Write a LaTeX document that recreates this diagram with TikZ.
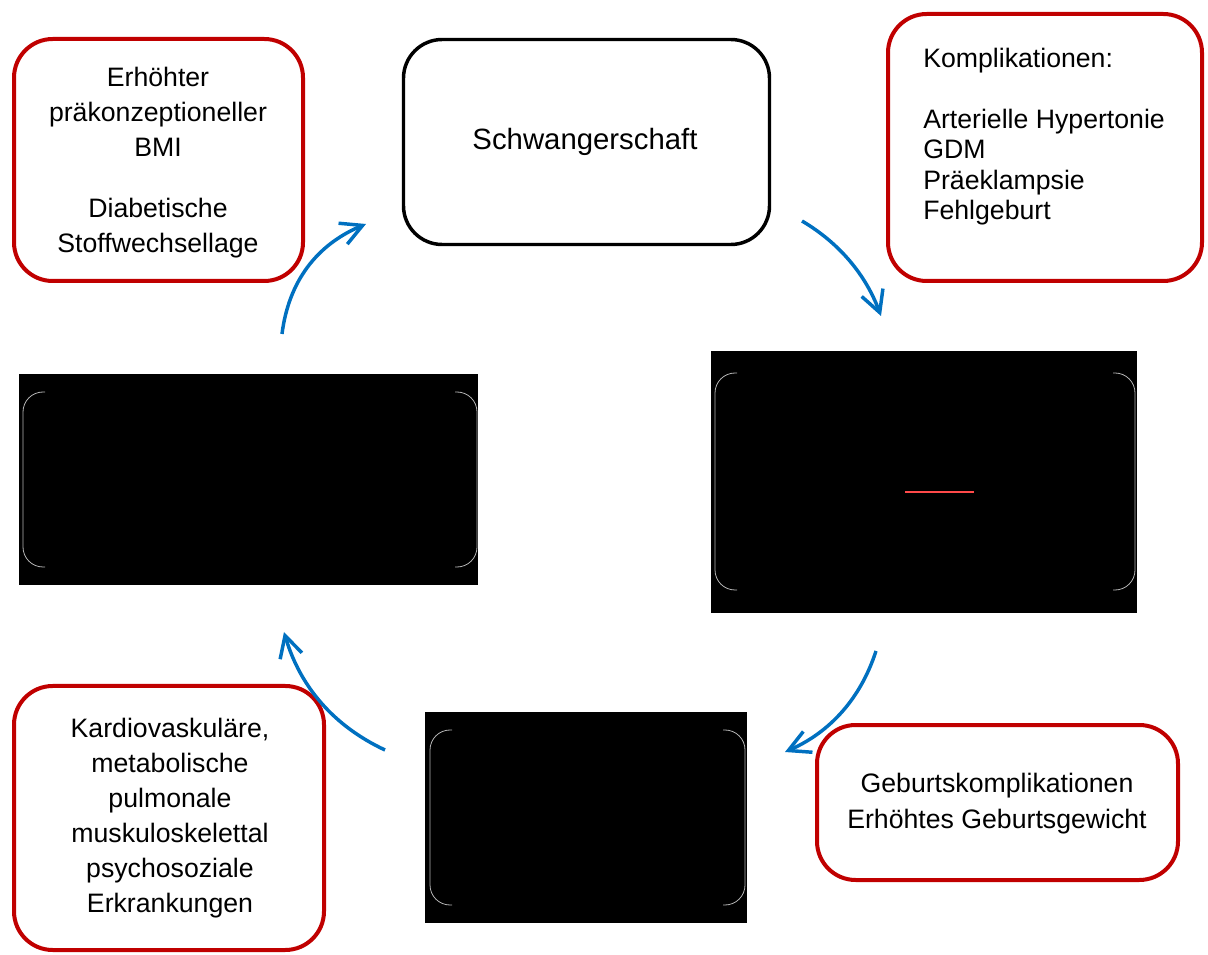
\documentclass[tikz,border=0pt]{standalone}
\usepackage{fontspec}
\setmainfont{Liberation Sans}
\usetikzlibrary{arrows.meta}
\definecolor{boxred}{HTML}{C00000}
\definecolor{arrowblue}{HTML}{0070C0}
\definecolor{ghostgray}{HTML}{B4B4B4}
\definecolor{squigred}{HTML}{FF4A4A}
\tikzset{
  redbox/.style={draw=boxred, line width=3pt, rounded corners=29pt, fill=white, inner sep=0pt},
  blackborderbox/.style={draw=black, line width=2.6pt, rounded corners=29pt, fill=white, inner sep=0pt},
  hiddenbox/.style={fill=black, draw=none, inner sep=0pt},
  ghostline/.style={draw=ghostgray, line width=0.6pt, rounded corners=15pt},
  bodytext/.style={inner sep=0pt, font=\fontsize{20pt}{26.25pt}\selectfont},
  cyclearrow/.style={draw=arrowblue, line width=2.6pt, -{Straight Barb[length=16pt,width=17pt,line width=2.6pt]}},
}
\begin{document}
\begin{tikzpicture}[x=0.75pt,y=-0.75pt]
\useasboundingbox (0,0) rectangle (1208,955);

% boxes
\node[redbox, minimum width=216.75pt, minimum height=181.5pt] (bmiBox) at (158.5,160) {};
\node[blackborderbox, minimum width=274.5pt, minimum height=153.75pt] (schwBox) at (586.5,142) {};
\node[redbox, minimum width=235.5pt, minimum height=200.25pt] (kompBox) at (1045,147.5) {};
\node[redbox, minimum width=270.75pt, minimum height=116.25pt] (gebBox) at (997.5,802.5) {};
\node[redbox, minimum width=232.5pt, minimum height=198pt] (erkBox) at (169,818) {};

% hidden (black) boxes
\node[hiddenbox, minimum width=344.25pt, minimum height=158.25pt] (leftHidden) at (248.5,479.5) {};
\node[hiddenbox, minimum width=319.5pt, minimum height=196.5pt] (rightHidden) at (924,482) {};
\node[hiddenbox, minimum width=241.5pt, minimum height=158.25pt] (bottomHidden) at (586,817.5) {};

% faint inner outlines
\draw[ghostline] (45,392) -- (23,392) -- (23,567) -- (45,567);
\draw[ghostline] (455,392) -- (477,392) -- (477,567) -- (455,567);
\draw[ghostline] (737,373) -- (715,373) -- (715,590) -- (737,590);
\draw[ghostline] (1113,373) -- (1135,373) -- (1135,590) -- (1113,590);
\draw[ghostline] (452,730) -- (430,730) -- (430,905) -- (452,905);
\draw[ghostline] (723,730) -- (745,730) -- (745,905) -- (723,905);
\draw[squigred, line width=1.5pt] (905,492) -- (974,492);

% texts (anchor=base is the last line's baseline)
\node[bodytext, align=center, anchor=base] (bmiText) at (158,253)
  {Erhöhter\\präkonzeptioneller\\BMI\\[19.5pt]Diabetische\\Stoffwechsellage};
\node[inner sep=0pt, font=\fontsize{22pt}{26pt}\selectfont, anchor=base] (schwText) at (585,150) {Schwangerschaft};
\node[inner sep=0pt, font=\fontsize{20pt}{22.9pt}\selectfont, align=left, anchor=base west] (kompText) at (923,220)
  {Komplikationen:\\[22.9pt]Arterielle Hypertonie\\GDM\\Präeklampsie\\Fehlgeburt};
\node[inner sep=0pt, font=\fontsize{20pt}{27pt}\selectfont, align=center, anchor=base] (gebText) at (997,828)
  {Geburtskomplikationen\\Erhöhtes Geburtsgewicht};
\node[bodytext, align=center, anchor=base] (erkText) at (170,912)
  {Kardiovaskuläre,\\metabolische\\pulmonale\\muskuloskelettal\\psychosoziale\\Erkrankungen};

% arrows
\coordinate (a1s) at (282,334); \coordinate (a1e) at (366,224);
\coordinate (a2s) at (802,221); \coordinate (a2e) at (881,316);
\coordinate (a3s) at (876,651); \coordinate (a3e) at (785,752);
\coordinate (a4s) at (385,750); \coordinate (a4e) at (284,632);
\draw[cyclearrow] (a1s) .. controls (288.7,281.3) and (316.7,244.7) .. (a1e);
\draw[cyclearrow] (a2s) .. controls (839.3,243) and (865.7,274.7) .. (a2e);
\draw[cyclearrow] (a3s) .. controls (860.7,698.3) and (830.3,732) .. (a3e);
\draw[cyclearrow] (a4s) .. controls (333.7,726) and (300,686.7) .. (a4e);
\end{tikzpicture}
\end{document}
